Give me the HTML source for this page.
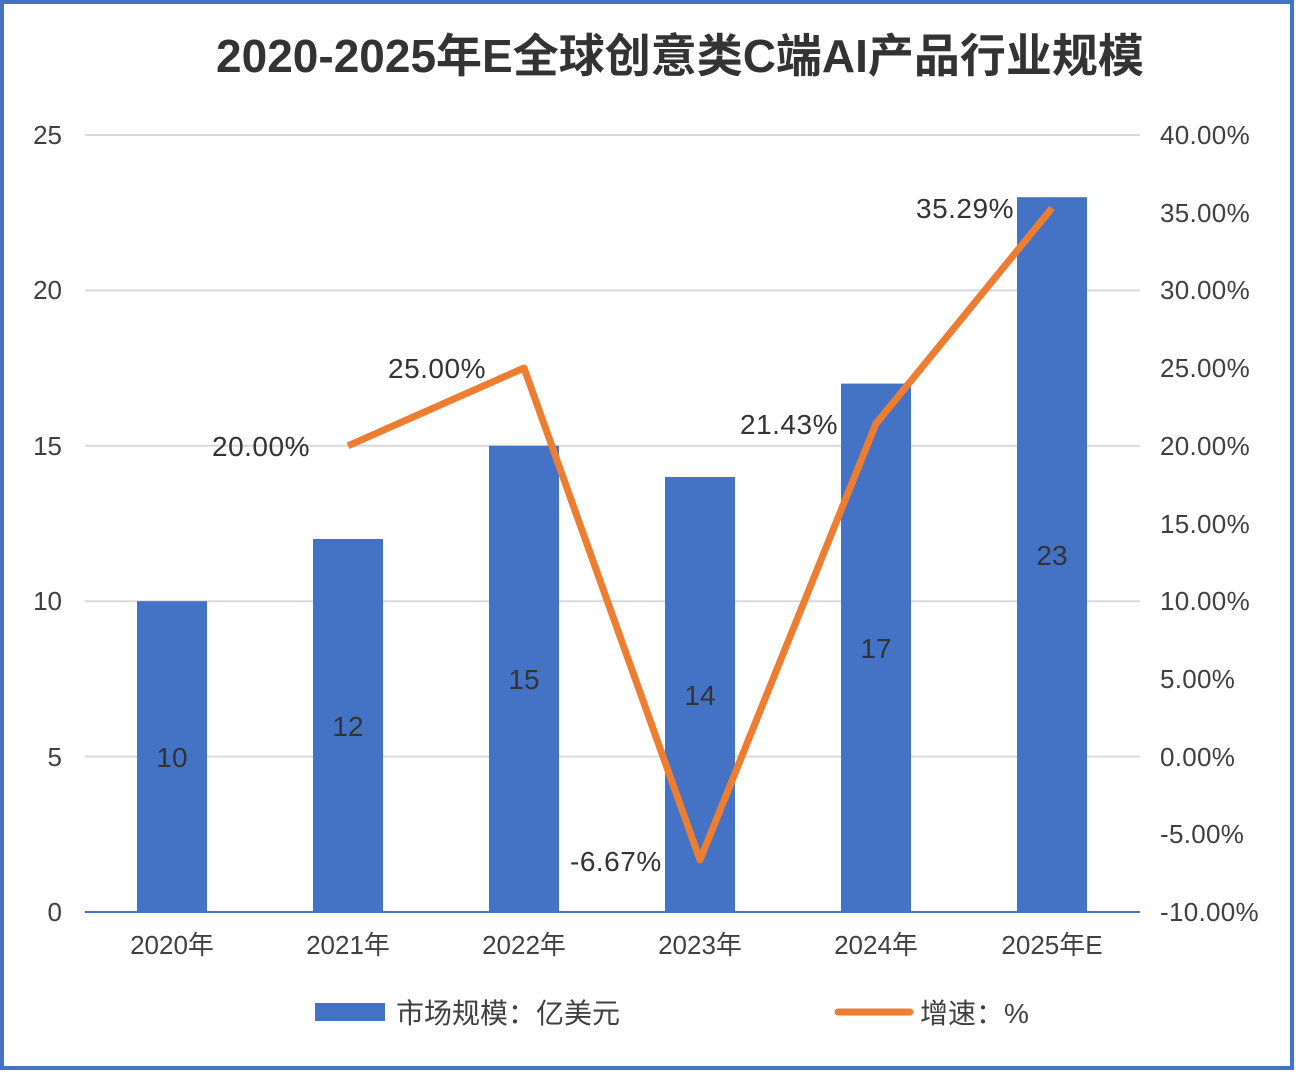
<!DOCTYPE html>
<html><head><meta charset="utf-8"><style>
body{margin:0;background:#fff}
svg{display:block}
text{font-family:"Liberation Sans","Noto Sans CJK SC",sans-serif}
</style></head><body>
<svg width="1296" height="1072" viewBox="0 0 1296 1072">
<rect x="2" y="2" width="1290" height="1066" fill="#fff" stroke="#4472C4" stroke-width="4"/>
<text x="680" y="72" text-anchor="middle" font-size="46" font-weight="bold" fill="#333">2020-2025年E全球创意类C端AI产品行业规模</text>
<g stroke="#d9d9d9" stroke-width="2">
<line x1="85" y1="135" x2="1140" y2="135"/>
<line x1="85" y1="290.4" x2="1140" y2="290.4"/>
<line x1="85" y1="445.8" x2="1140" y2="445.8"/>
<line x1="85" y1="601.2" x2="1140" y2="601.2"/>
<line x1="85" y1="756.6" x2="1140" y2="756.6"/>
</g>
<g fill="#4472C4">
<rect x="137" y="601.2" width="70" height="310.8"/>
<rect x="313" y="539" width="70" height="373"/>
<rect x="489" y="445.8" width="70" height="466.2"/>
<rect x="665" y="477" width="70" height="435"/>
<rect x="841" y="383.6" width="70" height="528.4"/>
<rect x="1017" y="197.2" width="70" height="714.8"/>
</g>
<line x1="85" y1="912" x2="1140" y2="912" stroke="#4472C4" stroke-width="2"/>
<g font-size="26" fill="#404040" text-anchor="end">
<text x="62" y="144">25</text><text x="62" y="299">20</text><text x="62" y="455">15</text>
<text x="62" y="610">10</text><text x="62" y="766">5</text><text x="62" y="921">0</text>
</g>
<g font-size="26" fill="#404040" letter-spacing="0.3">
<text x="1160" y="144">40.00%</text><text x="1160" y="222">35.00%</text><text x="1160" y="299">30.00%</text>
<text x="1160" y="377">25.00%</text><text x="1160" y="455">20.00%</text><text x="1160" y="533">15.00%</text>
<text x="1160" y="610">10.00%</text><text x="1160" y="688">5.00%</text><text x="1160" y="766">0.00%</text>
<text x="1160" y="843">-5.00%</text><text x="1160" y="921">-10.00%</text>
</g>
<g font-size="26" fill="#404040" text-anchor="middle">
<text x="172" y="954">2020年</text><text x="348" y="954">2021年</text><text x="524" y="954">2022年</text>
<text x="700" y="954">2023年</text><text x="876" y="954">2024年</text><text x="1052" y="954">2025年E</text>
</g>
<g font-size="28" fill="#333" text-anchor="middle">
<text x="172" y="767">10</text><text x="348" y="736">12</text><text x="524" y="689">15</text>
<text x="700" y="705">14</text><text x="876" y="658">17</text><text x="1052" y="565">23</text>
</g>
<polyline points="348,445.8 524,368 700,860 876,423.6 1052,208" fill="none" stroke="#ED7D31" stroke-width="7" stroke-linejoin="round"/>
<g font-size="28" fill="#333" letter-spacing="0.5">
<text x="212" y="456">20.00%</text><text x="388" y="378">25.00%</text><text x="570" y="871">-6.67%</text>
<text x="740" y="434">21.43%</text><text x="916" y="218">35.29%</text>
</g>
<rect x="315" y="1003" width="70" height="18" fill="#4472C4"/>
<text x="396" y="1023" font-size="28" fill="#404040">市场规模：亿美元</text>
<line x1="838" y1="1012" x2="910" y2="1012" stroke="#ED7D31" stroke-width="7" stroke-linecap="round"/>
<text x="920" y="1023" font-size="28" fill="#404040">增速：%</text>
</svg>
</body></html>
